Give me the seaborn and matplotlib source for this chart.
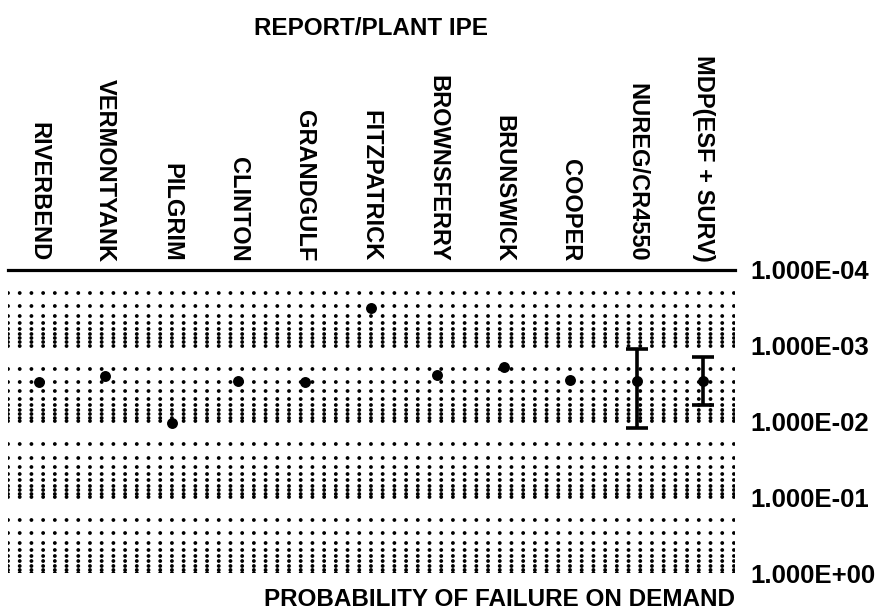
import numpy as np
import pandas as pd
import seaborn as sns
import matplotlib.pyplot as plt
from matplotlib.ticker import LogLocator, FuncFormatter, NullFormatter

# plants / reports along the horizontal axis
plants = ['RIVERBEND', 'VERMONTYANK', 'PILGRIM', 'CLINTON', 'GRANDGULF',
          'FITZPATRICK', 'BROWNSFERRY', 'BRUNSWICK', 'COOPER',
          'NUREG/CR4550', 'MDP(ESF + SURV)']
# point estimate of failure probability on demand
prob = [3.0e-3, 2.5e-3, 1.05e-2, 2.9e-3, 3.0e-3, 3.2e-4, 2.4e-3, 1.9e-3,
        2.8e-3, 2.9e-3, 2.9e-3]
# ranges shown for the two generic sources
range_names = ['NUREG/CR4550', 'MDP(ESF + SURV)']
range_low = [1.1e-3, 1.4e-3]
range_high = [1.22e-2, 6.0e-3]

sns.set_style('white')
plt.rcParams['font.family'] = ['Liberation Sans', 'DejaVu Sans']
plt.rcParams['font.weight'] = 'bold'
plt.rcParams['text.color'] = 'black'
plt.rcParams['axes.labelcolor'] = 'black'
plt.rcParams['xtick.color'] = 'black'
plt.rcParams['ytick.color'] = 'black'
plt.rcParams['lines.scale_dashes'] = False

df = pd.DataFrame({'plant': plants, 'prob': prob})
df['pos'] = np.arange(len(plants))

fig = plt.figure(figsize=(8.78, 6.16), dpi=100)
ax = fig.add_axes([0.0091, 0.0698, 0.828, 0.4919])

ax.set_yscale('log')
ax.set_ylim(1.0, 1e-4)
ax.set_xlim(-0.467, 10.48)

# dotted grid rows at every decade and minor tick
ax.yaxis.set_major_locator(LogLocator(base=10))
ax.yaxis.set_minor_locator(LogLocator(base=10, subs=np.arange(2, 10)))
ax.grid(axis='y', which='both', color='black', linestyle=(0, (0.01, 8.42)),
        linewidth=2.8, dash_capstyle='round', zorder=0)
ax.set_axisbelow(True)

sns.scatterplot(data=df, x='pos', y='prob', color='black', s=62,
                edgecolor='black', linewidth=0, ax=ax, zorder=3, legend=False)

# error bars for the generic data sources
for name, lo, hi in zip(range_names, range_low, range_high):
    i = plants.index(name)
    mid = prob[i]
    ax.errorbar(i, mid, yerr=[[mid - lo], [hi - mid]], fmt='none',
                ecolor='black', elinewidth=2.6, capsize=8, capthick=2.6,
                zorder=4)

# axes decoration
for side in ['left', 'right', 'bottom']:
    ax.spines[side].set_visible(False)
ax.spines['top'].set_linewidth(2.3)
ax.spines['top'].set_color('black')

ax.xaxis.tick_top()
ax.xaxis.set_label_position('top')
ax.set_xticks(df['pos'])
ax.set_xticklabels(plants, rotation=-90, va='bottom', ha='center',
                   fontsize=17, fontweight='bold')
ax.tick_params(axis='x', length=0, pad=6)
ax.set_xlabel('REPORT/PLANT IPE', fontsize=17.5, fontweight='bold', labelpad=14)

ax.yaxis.tick_right()
ax.yaxis.set_major_formatter(FuncFormatter(lambda v, p: f'{v:.3E}'))
ax.yaxis.set_minor_formatter(NullFormatter())
ax.tick_params(axis='y', which='both', length=0, pad=11, labelsize=18.5)
for lab in ax.get_yticklabels():
    lab.set_fontweight('bold')
ax.set_ylabel('')

fig.text(0.837, 0.026, 'PROBABILITY OF FAILURE ON DEMAND', ha='right',
         va='center', fontsize=17.5, fontweight='bold')

fig.savefig('out.png', dpi=100)
